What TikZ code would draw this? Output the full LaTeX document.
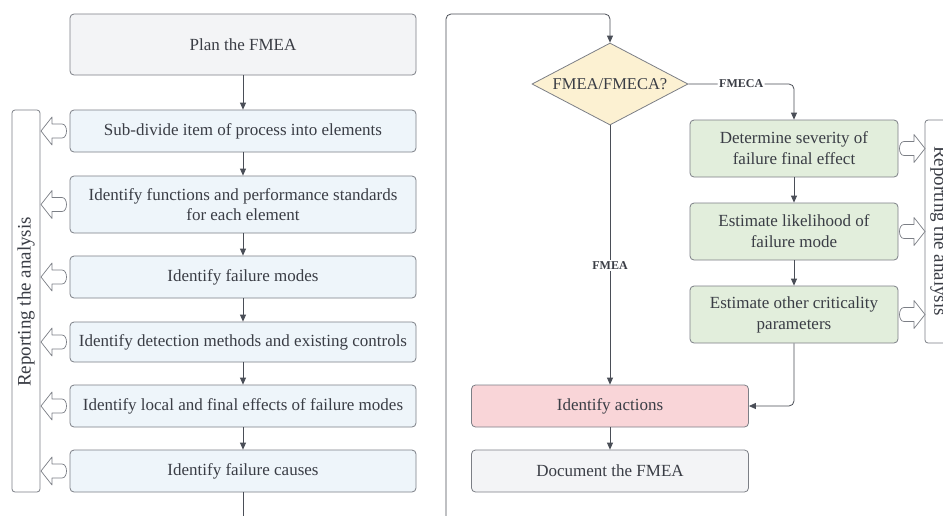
\documentclass[tikz,border=0pt]{standalone}
\usepackage{fontspec}
\setmainfont{Liberation Serif}
\usetikzlibrary{shapes.geometric,arrows.meta}
\definecolor{txt}{HTML}{3A3D45}
\definecolor{bord}{HTML}{7C7F86}
\definecolor{lnk}{HTML}{4A4E57}
\definecolor{grayf}{HTML}{F3F4F6}
\definecolor{bluef}{HTML}{EEF5FA}
\definecolor{greenf}{HTML}{E2EEDC}
\definecolor{yelf}{HTML}{FCF1D2}
\definecolor{pinkf}{HTML}{F9D5D8}
\tikzset{
  x=1pt,y=-1pt,
  box/.style={draw=bord,line width=0.8pt,rounded corners=4pt,align=center,text=txt,
    font=\fontsize{17}{20}\selectfont,inner sep=2pt},
  leftbox/.style={box,fill=bluef,minimum width=346pt,minimum height=42pt},
  greenbox/.style={box,fill=greenf,minimum width=208pt,minimum height=57pt,font=\fontsize{17}{21}\selectfont},
  link/.style={draw=lnk,line width=0.8pt,-{Triangle[length=7pt,width=6pt]}},
  plainlink/.style={draw=lnk,line width=0.8pt},
  lbl/.style={fill=white,text=txt,font=\bfseries\fontsize{12}{14}\selectfont,inner sep=1.5pt},
  frame/.style={draw=bord,line width=0.8pt,rounded corners=3pt},
  blk/.style={draw=bord,line width=0.7pt,fill=white,line join=round},
  replbl/.style={text=txt,font=\fontsize{19}{22}\selectfont}
}
\newcommand\blkarrowL[2]{%
  \draw[blk] (#1,#2) -- (#1+11,#2-14) -- (#1+11,#2-7) -- (#1+21,#2-7)
    .. controls (#1+27,#2-7) and (#1+27,#2+7) .. (#1+21,#2+7)
    -- (#1+11,#2+7) -- (#1+11,#2+14) -- cycle;}
\newcommand\blkarrowR[2]{%
  \draw[blk] (#1,#2) -- (#1-11,#2-14) -- (#1-11,#2-7) -- (#1-21,#2-7)
    .. controls (#1-27,#2-7) and (#1-27,#2+7) .. (#1-21,#2+7)
    -- (#1-11,#2+7) -- (#1-11,#2+14) -- cycle;}
\begin{document}
\begin{tikzpicture}
\useasboundingbox[fill=white] (0,0) rectangle (943,515);
% left column
\node[box,fill=grayf,minimum width=346pt,minimum height=61pt] (plan) at (243,44.5) {Plan the FMEA};
\node[leftbox] (sub) at (243,131) {Sub-divide item of process into elements};
\node[leftbox,minimum height=57pt] (func) at (243,204.5) {Identify functions and performance standards\\for each element};
\node[leftbox] (modes) at (243,277) {Identify failure modes};
\node[leftbox,minimum height=40pt] (detect) at (243,342) {Identify detection methods and existing controls};
\node[leftbox] (effects) at (243,406) {Identify local and final effects of failure modes};
\node[leftbox] (causes) at (243,471) {Identify failure causes};
\draw[link] (plan) -- (sub);
\draw[link] (sub) -- (func);
\draw[link] (func) -- (modes);
\draw[link] (modes) -- (detect);
\draw[link] (detect) -- (effects);
\draw[link] (effects) -- (causes);
\coordinate (cbot) at (243,516);
\draw[plainlink] (causes) -- (cbot);
% left reporting frame
\draw[frame] (12,110) rectangle (40,492);
\node[rotate=90,replbl] (repL) at (26,302) {Reporting the analysis};
\foreach \yy in {131,204.5,277,342,406,471} {\blkarrowL{41}{\yy}}
% right part
\node[draw=bord,line width=0.8pt,fill=yelf,diamond,aspect=1.9,minimum width=156pt,minimum height=82pt,inner sep=0pt,text=txt,font=\fontsize{16.5}{19}\selectfont] (dec) at (610,84) {FMEA/FMECA?};
\coordinate (rbot) at (446,516);
\draw[link,rounded corners=5pt] (rbot) -- (446,14) -| (dec.north);
\node[greenbox] (sev) at (794,148.5) {Determine severity of\\failure final effect};
\node[greenbox] (lik) at (794,231.5) {Estimate likelihood of\\failure mode};
\node[greenbox] (crit) at (794,314.5) {Estimate other criticality\\parameters};
\node[box,fill=pinkf,minimum width=277pt,minimum height=42pt] (act) at (610,406) {Identify actions};
\node[box,fill=grayf,minimum width=277pt,minimum height=42pt] (doc) at (610,471) {Document the FMEA};
\draw[link,rounded corners=5pt] (dec.east) -| node[lbl,pos=0.25] {FMECA} (sev.north);
\draw[link] (dec.south) -- node[lbl,pos=0.54] {FMEA} (act.north);
\draw[link] (sev) -- (lik);
\draw[link] (lik) -- (crit);
\draw[link,rounded corners=5pt] (crit.south) |- (act.east);
\draw[link] (act) -- (doc);
% right reporting frame
\draw[frame] (925,120) rectangle (965,343);
\node[rotate=-90,replbl] (repR) at (939,231) {Reporting the analysis};
\foreach \yy in {148.5,231.5,314.5} {\blkarrowR{925}{\yy}}
\end{tikzpicture}
\end{document}
